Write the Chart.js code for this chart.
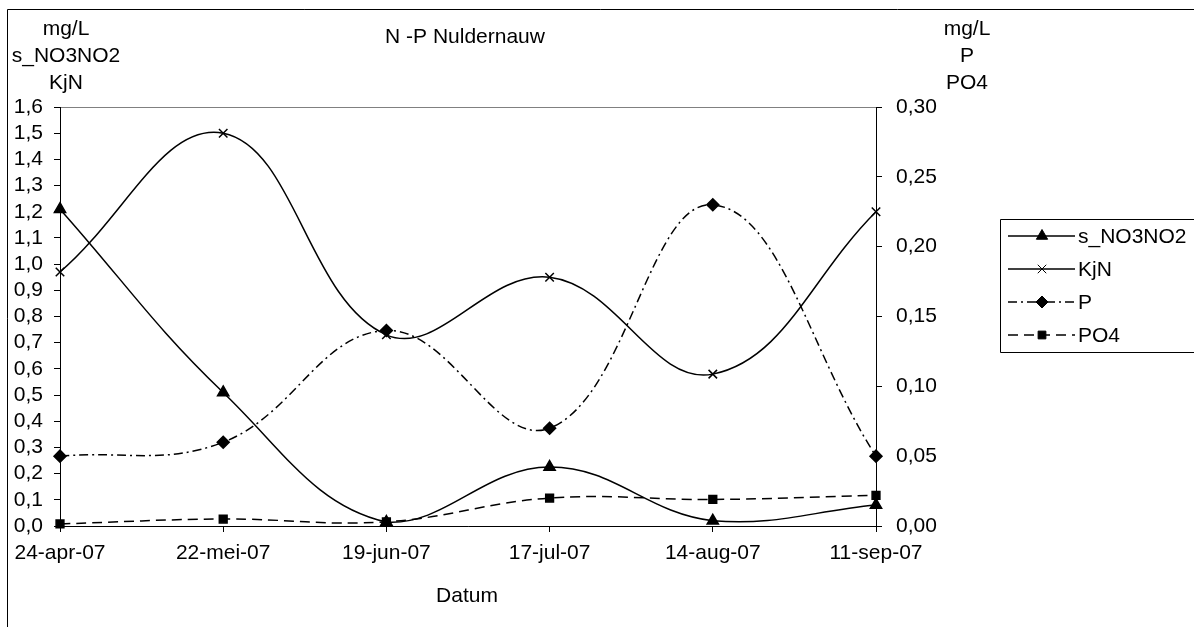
<!DOCTYPE html>
<html>
<head>
<meta charset="utf-8">
<script src="https://cdn.jsdelivr.net/npm/chart.js@4.4.1/dist/chart.umd.min.js"></script>
<style>
    html, body { margin: 0; padding: 0; background: #fff; }
    #wrap { position: relative; width: 1194px; height: 627px; }
</style>
</head>
<body>
<div id="wrap"><canvas id="chart" width="1194" height="627"></canvas></div>
<script>
const dates = ['24-apr-07', '22-mei-07', '19-jun-07', '17-jul-07', '14-aug-07', '11-sep-07'];
const no3no2 = [1.21, 0.51, 0.015, 0.225, 0.02, 0.08];
const kjn = [0.97, 1.50, 0.73, 0.95, 0.58, 1.20];
const totP = [0.050, 0.060, 0.140, 0.070, 0.230, 0.050];
const po4 = [0.0015, 0.005, 0.003, 0.020, 0.019, 0.022];

const leftTitle = ['mg/L', 's_NO3NO2', 'KjN'];
const rightTitle = ['mg/L', 'P', 'PO4'];

const FONT = "'Liberation Sans', Arial, sans-serif";
const FSIZE = 21;
Chart.defaults.font.family = FONT;
Chart.defaults.font.size = FSIZE;
Chart.defaults.color = '#000';

const PLOT = { left: 60, right: 876, top: 107, bottom: 526 };

function comma(v, d) {
    return v.toFixed(d).replace('.', ',');
}

// ── texts, frame and legend ──

const decor = {
    id: 'decor',
    beforeDraw(chart) {
        const ctx = chart.ctx;
        const a = chart.chartArea;
        ctx.save();
        ctx.fillStyle = '#fff';
        ctx.fillRect(0, 0, chart.width, chart.height);
        // outer frame
        ctx.strokeStyle = '#000';
        ctx.lineWidth = 1;
        ctx.beginPath();
        ctx.moveTo(7.5, chart.height);
        ctx.lineTo(7.5, 9.5);
        ctx.lineTo(chart.width, 9.5);
        ctx.stroke();
        // plot area border
        ctx.strokeStyle = '#808080';
        ctx.strokeRect(a.left + 0.5, a.top + 0.5, a.right - a.left, a.bottom - a.top);
        ctx.restore();
    },
    afterDraw(chart) {
        const ctx = chart.ctx;
        ctx.save();
        ctx.fillStyle = '#000';
        ctx.font = FSIZE + 'px ' + FONT;
        ctx.textBaseline = 'middle';
        ctx.textAlign = 'center';
        ctx.fillText('N -P Nuldernauw', 465, 37);
        leftTitle.forEach((t, i) => ctx.fillText(t, 66, 29 + i * 27));
        rightTitle.forEach((t, i) => ctx.fillText(t, 967, 29 + i * 27));
        ctx.fillText('Datum', 467, 596);

        // legend box
        ctx.strokeStyle = '#000';
        ctx.lineWidth = 1;
        ctx.beginPath();
        ctx.moveTo(chart.width, 219.5);
        ctx.lineTo(1000.5, 219.5);
        ctx.lineTo(1000.5, 352.5);
        ctx.lineTo(chart.width, 352.5);
        ctx.stroke();

        ctx.textAlign = 'left';
        chart.data.datasets.forEach((ds, i) => {
            const y = 236 + i * 33;
            ctx.save();
            ctx.strokeStyle = '#000';
            ctx.lineWidth = ds.borderWidth;
            ctx.setLineDash(ds.borderDash || []);
            ctx.beginPath();
            ctx.moveTo(1008, y);
            ctx.lineTo(1075, y);
            ctx.stroke();
            ctx.restore();
            ctx.save();
            ctx.fillStyle = '#000';
            ctx.strokeStyle = '#000';
            Chart.helpers.drawPoint(ctx, {
                pointStyle: ds.pointStyle,
                radius: ds.pointRadius,
                borderWidth: 1.5,
                rotation: 0
            }, 1042, y);
            ctx.restore();
            ctx.fillStyle = '#000';
            ctx.fillText(ds.label, 1078, y + 1);
        });
        ctx.restore();
    }
};

new Chart(document.getElementById('chart'), {
    type: 'line',
    data: {
        labels: dates,
        datasets: [
            {
                label: 's_NO3NO2', data: no3no2, yAxisID: 'y',
                borderColor: '#000', backgroundColor: '#000', borderWidth: 1.5,
                pointStyle: 'triangle', pointRadius: 6.5,
                pointBackgroundColor: '#000', pointBorderColor: '#000',
                tension: 0.4, clip: false
            },
            {
                label: 'KjN', data: kjn, yAxisID: 'y',
                borderColor: '#000', backgroundColor: '#000', borderWidth: 1.5,
                pointStyle: 'crossRot', pointRadius: 6,
                pointBackgroundColor: '#000', pointBorderColor: '#000',
                tension: 0.4, clip: false
            },
            {
                label: 'P', data: totP, yAxisID: 'y1',
                borderColor: '#000', backgroundColor: '#000', borderWidth: 1.5,
                borderDash: [9, 4, 2, 4],
                pointStyle: 'rectRot', pointRadius: 6,
                pointBackgroundColor: '#000', pointBorderColor: '#000',
                tension: 0.4, clip: false
            },
            {
                label: 'PO4', data: po4, yAxisID: 'y1',
                borderColor: '#000', backgroundColor: '#000', borderWidth: 1.5,
                borderDash: [10, 6],
                pointStyle: 'rect', pointRadius: 5.5,
                pointBackgroundColor: '#000', pointBorderColor: '#000',
                tension: 0.4, clip: false
            }
        ]
    },
    options: {
        responsive: false,
        animation: false,
        events: [],
        layout: { padding: { top: PLOT.top, left: 0, right: 0, bottom: 0 } },
        plugins: { legend: { display: false }, tooltip: { enabled: false } },
        scales: {
            x: {
                offset: false,
                grid: { drawOnChartArea: false, drawTicks: true, tickLength: 6, color: '#000' },
                border: { color: '#000', width: 1 },
                ticks: { maxRotation: 0, autoSkip: false, padding: 9, color: '#000' },
                afterFit: s => { s.height = 627 - PLOT.bottom; }
            },
            y: {
                position: 'left',
                min: 0, max: 1.6,
                grid: { drawOnChartArea: false, drawTicks: true, tickLength: 6, color: '#000' },
                border: { color: '#000', width: 1 },
                ticks: { stepSize: 0.1, autoSkip: false, padding: 11, color: '#000', callback: v => comma(v, 1) },
                afterFit: s => { s.width = PLOT.left; }
            },
            y1: {
                position: 'right',
                min: 0, max: 0.30,
                grid: { drawOnChartArea: false, drawTicks: true, tickLength: 6, color: '#000' },
                border: { color: '#000', width: 1 },
                ticks: { stepSize: 0.05, autoSkip: false, padding: 14, color: '#000', callback: v => comma(v, 2) },
                afterFit: s => { s.width = 1194 - PLOT.right; }
            }
        }
    },
    plugins: [decor]
});
</script>
</body>
</html>
